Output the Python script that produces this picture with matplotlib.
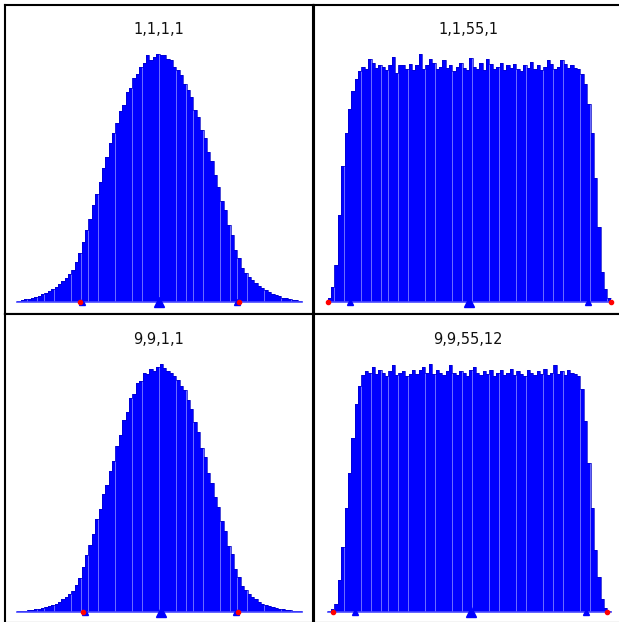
import numpy as np
import matplotlib
matplotlib.use("Agg")
import matplotlib.pyplot as plt


# 1. Panel titles (top-left, top-right, bottom-left, bottom-right)
titles = ["1,1,1,1", "1,1,55,1", "9,9,1,1", "9,9,55,12"]

counts_1111 = [0.4, 0.6, 0.9, 1.2, 1.5, 1.9, 2.4, 3.0, 3.6, 4.4,
               5.2, 6.1, 7.2, 8.3, 9.6, 11.0, 12.6, 16.0, 19.5, 24.0,
               29.0, 33.5, 39.0, 43.5, 48.5, 54.0, 58.5, 64.0, 68.0, 72.0,
               77.0, 79.5, 84.5, 86.5, 90.5, 92.0, 95.0, 96.5, 99.5, 97.5,
               99.0, 100.0,
               99.5, 99.8, 98.0, 97.5, 95.0, 93.5, 91.5, 88.0, 85.5, 82.5,
               77.5, 74.5, 69.5, 66.0, 60.5, 57.0, 51.0, 46.5, 40.5, 37.0,
               31.0, 27.0, 21.0, 17.5, 13.5, 11.5, 10.0, 8.7, 7.6, 6.5,
               5.5, 4.7, 3.9, 3.2, 2.6, 2.1, 1.6, 1.3, 1.0, 0.7,
               0.5, 0.3]

counts_11551 = [1.5, 6.0, 15.0, 35.0, 55.0, 68.0, 78.0, 85.0, 90.0, 93.0,
                95.0, 94.0, 98.0, 96.5, 94.5, 95.5, 95.0, 93.5, 95.5, 99.0,
                92.5, 95.5, 95.5, 94.0, 96.0, 93.5, 95.5, 100.0, 94.0, 95.5,
                98.0, 96.5, 94.0, 95.0, 97.5, 94.5, 95.5, 93.0, 95.0, 96.5,
                94.5, 93.5, 98.5, 95.0, 94.0, 96.5, 93.5, 98.0, 96.0, 94.0,
                95.0, 96.5, 93.5, 95.5, 94.5, 96.0, 94.0, 93.0, 95.5, 94.5,
                97.0, 94.0, 95.5, 93.5, 95.0, 97.5, 96.0, 94.0, 95.0, 97.5,
                96.0, 94.5, 95.5, 94.5,
                94.0, 92.0, 88.0, 80.0, 68.0, 50.0, 30.0, 12.0, 5.0, 1.5]

counts_9911 = [0.3, 0.4, 0.5, 0.6, 0.8, 1.1, 1.3, 1.6, 1.9, 2.3,
               2.8, 3.3, 4.0, 5.0, 6.2, 7.3, 8.5, 11.0, 13.5, 18.0,
               23.0, 27.0, 31.5, 37.5, 41.5, 47.5, 51.0, 57.0, 61.0, 67.0,
               71.5, 77.5, 80.5, 86.5, 88.0, 92.5, 93.0, 96.5, 96.0, 98.0,
               97.0, 99.0,
               100.0, 98.5, 97.0, 96.5, 95.0, 93.5, 91.0, 89.5, 85.5, 82.0,
               76.5, 72.5, 66.0, 62.5, 56.0, 52.0, 46.5, 42.5, 36.5, 32.5,
               26.5, 23.5, 17.5, 14.0, 10.5, 8.7, 7.2, 6.0, 5.1, 4.1,
               3.2, 2.7, 2.3, 1.9, 1.5, 1.3, 1.0, 0.8, 0.6, 0.5,
               0.4, 0.3]

counts_995512 = [0.5, 1.0, 3.0, 13.0, 26.0, 42.0, 56.0, 70.0, 84.0, 91.0,
                 95.5, 97.0, 96.5, 99.0, 96.0, 97.5, 96.5, 95.0, 97.0, 99.5,
                 95.5, 96.5, 97.0, 95.0, 96.0, 97.5, 96.0, 97.5, 99.0, 96.5,
                 100.0, 96.0, 97.5, 96.5, 95.5, 97.0, 99.5, 96.5, 95.5, 97.0,
                 96.5, 95.0, 97.5, 99.0, 96.5, 95.5, 97.0, 96.0, 97.5, 95.0,
                 96.5, 97.5, 95.5, 96.5, 98.0, 95.5, 97.0, 96.0, 95.0, 97.5,
                 96.5, 95.5, 97.0, 96.0, 98.0, 95.5, 96.5, 99.5, 96.0, 97.0,
                 95.5, 97.5, 96.5, 96.0,
                 95.0, 90.0, 77.0, 60.0, 42.0, 25.0, 14.0, 5.0, 1.5, 0.5]

# 3. Markers on the base line, in bin units
red_1111, tick_1111, mean_1111 = [18.4, 65.4], [19.1, 64.9], [41.85]
red_11551, tick_11551, mean_11551 = [0.0, 84.0], [6.6, 77.2], [41.9]
red_9911, tick_9911, mean_9911 = [19.4, 65.2], [20.0, 64.6], [42.4]
red_995512, tick_995512, mean_995512 = [1.6, 82.9], [8.1, 76.6], [42.5]

panels = [
    (counts_1111, red_1111, tick_1111, mean_1111),
    (counts_11551, red_11551, tick_11551, mean_11551),
    (counts_9911, red_9911, tick_9911, mean_9911),
    (counts_995512, red_995512, tick_995512, mean_995512),
]

# 4. Axes boxes in pixels: left, top, and x-limits in bin units
W, H = 619, 622
boxes = [(5, 5), (314, 5), (5, 314), (314, 314)]
xlims = [(-3.63, 87.33), (-4.07, 87.33), (-3.63, 87.33), (-4.07, 87.33)]
base_frac = [0.040, 0.040, 0.036, 0.036]
peak_frac = [0.841, 0.841, 0.838, 0.838]

fig = plt.figure(figsize=(W / 100, H / 100), dpi=100)

for k, (counts, red, tick, mean) in enumerate(panels):
    left, top = boxes[k]
    ax = fig.add_axes([left / W, (H - top - 309) / H, 308 / W, 309 / H])

    counts = np.array(counts)
    edges = np.arange(len(counts) + 1)
    centers = edges[:-1] + 0.5

    # light blue fill behind, so the gaps between bars show as pale stripes
    ax.stairs(counts, edges, fill=True, color="#6a6aff", linewidth=0)
    ax.bar(centers, counts, width=0.92, color="#0000ff", linewidth=0)
    ax.stairs(counts, edges, color="#0000c8", linewidth=0.5, baseline=None)
    ax.plot([0, len(counts)], [0, 0], color="#4848ff", linewidth=1.2)

    # base line markers
    ax.plot(tick, [0] * len(tick), linestyle="none", marker="^",
            markersize=4, color="#0000ff")
    ax.plot(mean, [0] * len(mean), linestyle="none", marker="^",
            markersize=7, color="#0000ff")
    ax.plot(red, [0] * len(red), linestyle="none", marker="o",
            markersize=3, color="#ff0000", clip_on=False)

    # scale each panel so its tallest bar sits at the same height
    span = counts.max() / (peak_frac[k] - base_frac[k])
    ymin = -base_frac[k] * span
    ax.set_ylim(ymin, ymin + span)
    ax.set_xlim(*xlims[k])

    ax.set_xticks([])
    ax.set_yticks([])
    for s in ax.spines.values():
        s.set_linewidth(1.5)
        s.set_color("black")

    ax.text(0.5, 1 - 25 / 309, titles[k], transform=ax.transAxes,
            ha="center", va="center", fontsize=10.5, color="#111111")

fig.savefig("out.png", dpi=100)
